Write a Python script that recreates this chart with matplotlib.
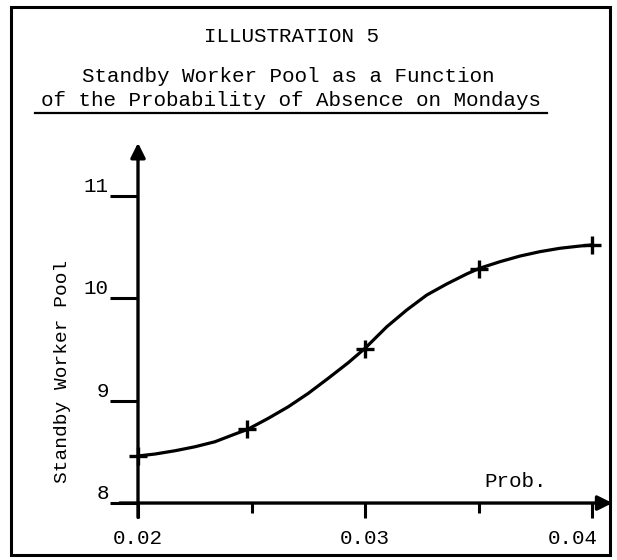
import numpy as np
import matplotlib
matplotlib.use("Agg")
import matplotlib.pyplot as plt
from matplotlib.patches import Rectangle
from matplotlib.lines import Line2D
from matplotlib.transforms import ScaledTranslation

# plotted points (the "+" marks)
prob = [0.0200, 0.0248, 0.0300, 0.0350, 0.0400]
pool = [8.46, 8.72, 9.51, 10.29, 10.52]

# the hand-drawn curve, read along its path
curve_prob = [0.02000, 0.02075, 0.02163, 0.02251, 0.02339, 0.02427, 0.02483,
              0.02574, 0.02662, 0.02750, 0.02838, 0.02926, 0.03000, 0.03096,
              0.03184, 0.03272, 0.03360, 0.03448, 0.03504, 0.03595, 0.03683,
              0.03771, 0.03859, 0.03947, 0.04000]
curve_pool = [8.460, 8.479, 8.511, 8.550, 8.599, 8.674, 8.720,
              8.828, 8.941, 9.072, 9.219, 9.371, 9.512, 9.723,
              9.887, 10.033, 10.141, 10.239, 10.294, 10.359, 10.414,
              10.457, 10.490, 10.512, 10.522]

x_ticks = [0.02, 0.03, 0.04]
x_tick_labels = ["0.02", "0.03", "0.04"]
x_minor = [0.025, 0.035]
y_ticks = [8, 9, 10, 11]
y_tick_labels = ["8", "9", "10", "11"]

plt.rcParams["font.family"] = "Liberation Mono"

fig = plt.figure(figsize=(6.17, 5.60), dpi=100)
W, H = 617, 560

# axes placed so data maps onto the scanned pixel grid
ax = fig.add_axes([115.3 / W, (H - 523.5) / H, 499.4 / W, 388.8 / H])
ax.set_xlim(0.019, 0.041)
ax.set_ylim(7.8, 11.6)
ax.patch.set_visible(False)
for s in ["top", "right", "left", "bottom"]:
    ax.spines[s].set_visible(False)
ax.spines["bottom"].set_position(("data", 8))
ax.spines["left"].set_position(("data", 0.02))

# axis lines with arrowheads
ax.annotate("", xy=(0.02, 11.52), xytext=(0.02, 7.86),
            arrowprops=dict(arrowstyle="-|>", lw=2.4, color="black",
                            mutation_scale=22, shrinkA=0, shrinkB=0))
ax.annotate("", xy=(0.0409, 8), xytext=(0.0192, 8),
            arrowprops=dict(arrowstyle="-|>", lw=2.4, color="black",
                            mutation_scale=22, shrinkA=0, shrinkB=0))

ax.plot(curve_prob, curve_pool, color="black", lw=2.3,
        solid_capstyle="round", solid_joinstyle="round")
ax.plot(prob, pool, linestyle="none", marker="+", ms=13, mew=2.4, color="black")

ax.set_xticks(x_ticks)
ax.set_xticklabels(x_tick_labels)
ax.set_xticks(x_minor, minor=True)
ax.tick_params(axis="x", which="major", direction="out", length=11, width=2.2,
               pad=8, labelsize=15)
ax.tick_params(axis="x", which="minor", direction="out", length=7, width=2.2)
# the last label is typed a little to the left so it stays inside the frame
last = ax.get_xticklabels()[-1]
last.set_horizontalalignment("right")
last.set_transform(last.get_transform() + ScaledTranslation(0.06, 0, fig.dpi_scale_trans))

ax.set_yticks(y_ticks)
ax.set_yticklabels(y_tick_labels)
ax.tick_params(axis="y", direction="out", length=20, width=2.2, pad=1, labelsize=15)
for lab in ax.get_yticklabels():
    lab.set_verticalalignment("bottom")

ax.set_ylabel("Standby Worker Pool", fontsize=14)
ax.yaxis.set_label_coords(-0.088, 0.392)
ax.text(0.802, 0.107, "Prob.", transform=ax.transAxes, fontsize=15,
        ha="center", va="center")

# titles
fig.text(291 / W, 1 - 37 / H, "ILLUSTRATION 5", fontsize=15, ha="center", va="center")
fig.text(288 / W, 1 - 76 / H, "Standby Worker Pool as a Function", fontsize=15,
         ha="center", va="center")
fig.text(291 / W, 1 - 100 / H, "of the Probability of Absence on Mondays", fontsize=15,
         ha="center", va="center")
fig.add_artist(Line2D([35 / W, 547 / W], [1 - 113 / H, 1 - 113 / H],
                      color="black", lw=1.6, transform=fig.transFigure))

# frame round the whole illustration
fig.add_artist(Rectangle((11 / W, 1 - 555 / H), 599 / W, 548 / H, fill=False,
                         lw=2.2, edgecolor="black", transform=fig.transFigure))

fig.savefig("out.png", dpi=100)
